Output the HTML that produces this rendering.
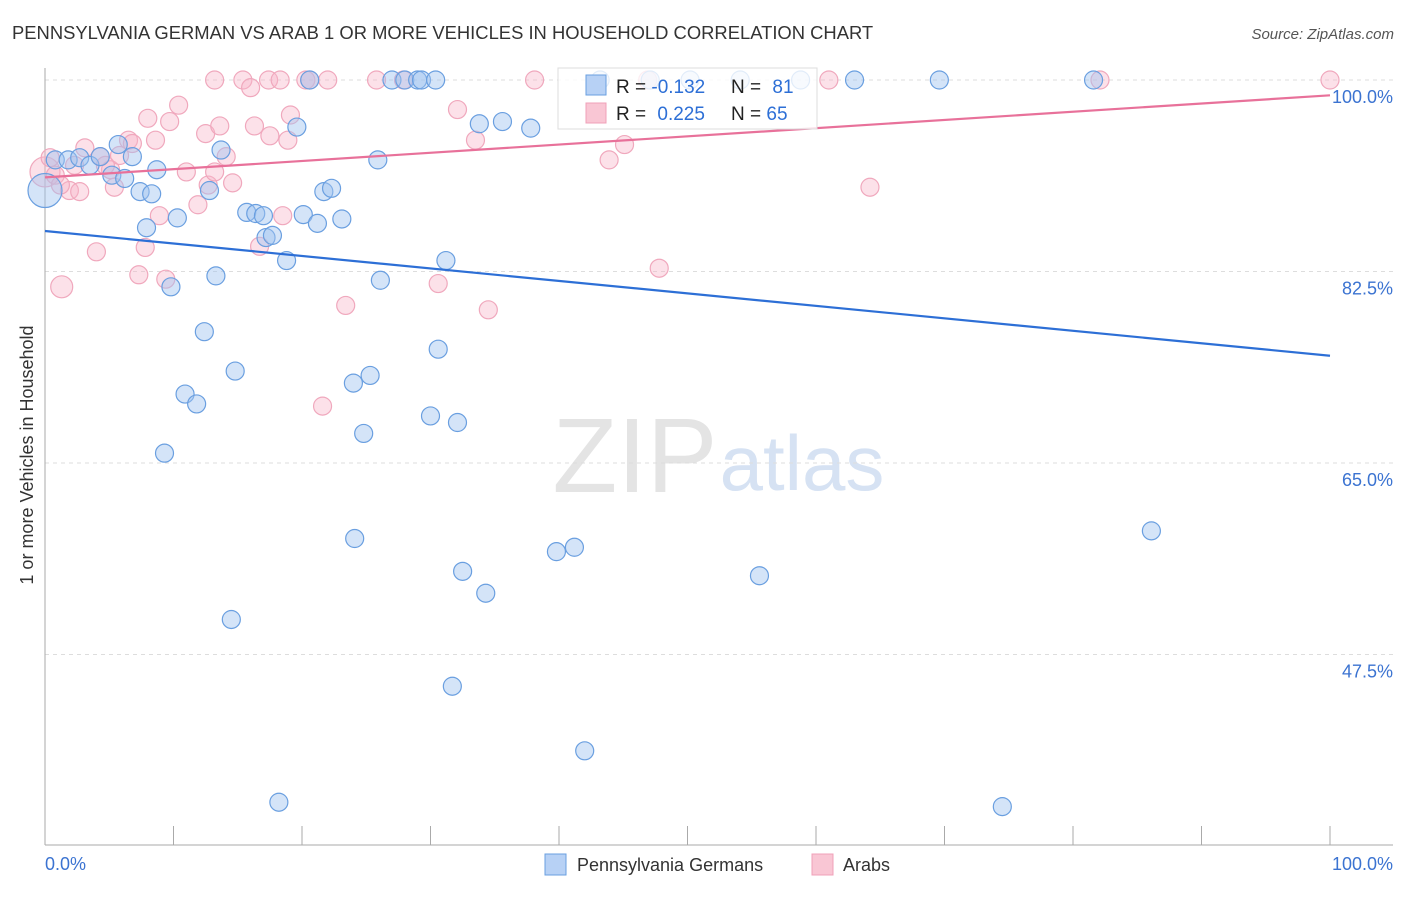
<!DOCTYPE html>
<html><head><meta charset="utf-8"><style>
body{margin:0;background:#fff;font-family:"Liberation Sans",sans-serif}
svg text{font-family:"Liberation Sans",sans-serif}
</style></head><body>
<svg id="chart" width="1406" height="892">
<text x="12" y="39" font-size="18.4" fill="#333">PENNSYLVANIA GERMAN VS ARAB 1 OR MORE VEHICLES IN HOUSEHOLD CORRELATION CHART</text>
<text x="1394" y="39" font-size="15" fill="#555" font-style="italic" text-anchor="end">Source: ZipAtlas.com</text>
<text x="33" y="455" font-size="18" fill="#333" text-anchor="middle" transform="rotate(-90 33 455)">1 or more Vehicles in Household</text>
<g><text x="635" y="492" font-size="106" fill="#e4e4e4" text-anchor="middle" font-family="Liberation Serif,serif">ZIP</text><text x="802" y="490" font-size="78" fill="#d6e2f3" text-anchor="middle">atlas</text></g>
<g id="grid"></g><g id="axes"></g><g id="pts"></g><g id="trend"></g>
<g>
<rect x="558" y="68" width="259" height="61" fill="#fff" fill-opacity="0.8" stroke="#ddd"/>
<rect x="586" y="75" width="20" height="20" fill="#b7d1f5" stroke="#6a9fe0"/>
<rect x="586" y="103" width="20" height="20" fill="#f9c6d4" stroke="#f0a0b8"/>
<text x="616" y="93" font-size="19" fill="#222">R = <tspan fill="#2d6fd6">-0.132</tspan></text>
<text x="731" y="93" font-size="19" fill="#222">N = <tspan fill="#2d6fd6" dx="6">81</tspan></text>
<text x="616" y="120" font-size="19" fill="#222">R = <tspan fill="#2d6fd6" dx="6">0.225</tspan></text>
<text x="731" y="120" font-size="19" fill="#222">N = <tspan fill="#2d6fd6">65</tspan></text>
</g>
<g>
<rect x="545" y="854" width="21" height="21" fill="#b7d1f5" stroke="#6a9fe0"/>
<text x="577" y="871" font-size="18" fill="#333">Pennsylvania Germans</text>
<rect x="812" y="854" width="21" height="21" fill="#f9c6d4" stroke="#f0a0b8"/>
<text x="843" y="871" font-size="18" fill="#333">Arabs</text>
</g>
</svg>
<script>
const yTicks=[100,82.5,65,47.5];
const yTickLabels=["100.0%","82.5%","65.0%","47.5%"];
const blueX=[0,0.8,1.8,2.7,3.5,4.3,5.2,5.7,6.2,6.8,7.4,7.9,8.3,8.7,9.8,10.3,10.9,11.8,12.4,12.8,13.3,13.7,14.8,15.7,16.4,17.0,17.2,17.7,18.8,19.6,20.1,20.6,21.2,21.7,22.3,23.1,24.0,24.1,24.8,25.3,25.9,26.1,27.0,28.0,29.0,29.3,30.4,30.0,30.6,31.2,31.7,32.1,32.5,33.8,34.3,35.6,37.8,39.8,41.2,42.0,14.5,9.3,18.2,43.2,47.1,50.2,54.1,55.6,58.8,63.0,69.6,74.5,81.6,86.1];
const blueY=[89.9,92.7,92.7,92.9,92.2,93.0,91.3,94.1,91.0,93.0,89.8,86.5,89.6,91.8,81.1,87.4,71.3,70.4,77.0,89.9,82.1,93.6,73.4,87.9,87.8,87.6,85.6,85.8,83.5,95.7,87.7,100,86.9,89.8,90.1,87.3,72.3,58.1,67.7,73.0,92.7,81.7,100,100,100,100,100,69.3,75.4,83.5,44.6,68.7,55.1,96.0,53.1,96.2,95.6,56.9,57.3,38.7,50.7,65.9,34.0,100,100,100,100,54.7,100,100,100,33.6,100,58.8];
const blueR=[17,9,9,9,9,9,9,9,9,9,9,9,9,9,9,9,9,9,9,9,9,9,9,9,9,9,9,9,9,9,9,9,9,9,9,9,9,9,9,9,9,9,9,9,9,9,9,9,9,9,9,9,9,9,9,9,9,9,9,9,9,9,9,9,9,9,9,9,9,9,9,9,9,9];
const pinkX=[0,0.4,0.8,1.3,1.9,2.7,3.1,4.0,4.3,5.1,5.4,5.8,6.5,6.8,7.3,7.8,8.0,8.6,8.9,9.4,9.7,10.4,11.0,11.9,12.5,12.7,13.2,13.6,14.1,14.6,15.4,16.0,16.3,16.7,17.4,17.5,18.3,18.5,18.9,19.1,20.3,20.6,21.6,22.0,23.4,25.8,27.9,30.6,32.1,33.5,34.5,38.1,43.9,45.1,46.9,47.8,61.0,64.2,82.1,100,1.2,2.3,13.2,4.7];
const pinkY=[91.6,92.9,91.3,81.1,89.9,89.8,93.8,84.3,93.0,91.8,90.2,93.1,94.5,94.2,82.2,84.7,96.5,94.5,87.6,81.8,96.2,97.7,91.6,88.6,95.1,90.4,100,95.8,93.0,90.6,100,99.3,95.8,84.8,100,94.9,100,87.6,94.5,96.8,100,100,70.2,100,79.4,100,100,81.4,97.3,94.5,79.0,100,92.7,94.1,100,82.8,100,90.2,100,100,90.4,92.2,91.6,92.2];
const pinkR=[15,9,9,11,9,9,9,9,9,9,9,9,9,9,9,9,9,9,9,9,9,9,9,9,9,9,9,9,9,9,9,9,9,9,9,9,9,9,9,9,9,9,9,9,9,9,9,9,9,9,9,9,9,9,9,9,9,9,9,9,9,9,9,9];
const blueTrend=[86.2,74.8];
const pinkTrend=[91.1,98.6];
const NS="http://www.w3.org/2000/svg";
const sx=v=>45+v*12.85;
const sy=v=>80+(100-v)*10.943;
function mk(tag,attrs,parent){const e=document.createElementNS(NS,tag);for(const k in attrs)e.setAttribute(k,attrs[k]);parent.appendChild(e);return e;}
const grid=document.getElementById('grid'),axes=document.getElementById('axes'),pts=document.getElementById('pts'),trend=document.getElementById('trend');
yTicks.forEach((t,i)=>{
 const l=mk('line',{x1:45,x2:1393,y1:sy(t),y2:sy(t),stroke:'#ddd','stroke-dasharray':'4 4'},grid);
 
 
 const tx=mk('text',{x:1393,y:sy(t)+23,'font-size':18,fill:'#3b73d1','text-anchor':'end'},grid);
 tx.textContent=yTickLabels[i];
 
 
});
const ax=mk('line',{x1:45,x2:45,y1:68,y2:845,stroke:'#aaa'},axes);


const bx=mk('line',{x1:45,x2:1393,y1:845,y2:845,stroke:'#aaa'},axes);


for(let i=1;i<=10;i++){const t=mk('line',{x1:sx(i*10),x2:sx(i*10),y1:826,y2:845,stroke:'#aaa'},axes);
 
 }
[["0.0%",45,'start'],["100.0%",1393,'end']].forEach(a=>{const t=mk('text',{x:a[1],y:870,'font-size':18,fill:'#3b73d1','text-anchor':a[2]},axes);t.textContent=a[0];
 
 });
function drawPts(X,Y,R,fill,stroke,name){X.forEach((x,i)=>{const c=mk('circle',{cx:sx(x),cy:sy(Y[i]),r:R[i],fill:fill,stroke:stroke,'stroke-width':1.2},pts);
 
 });}
drawPts(pinkX,pinkY,pinkR,'rgba(248,180,200,0.4)','#f0a8bd','arab-point');
drawPts(blueX,blueY,blueR,'rgba(160,196,240,0.45)','#6a9fe0','pennsylvania-german-point');
const bl=mk('line',{x1:sx(0),x2:sx(100),y1:sy(blueTrend[0]),y2:sy(blueTrend[1]),stroke:'#2d6fd6','stroke-width':2.2},trend);


const pl=mk('line',{x1:sx(0),x2:sx(100),y1:sy(pinkTrend[0]),y2:sy(pinkTrend[1]),stroke:'#e8719a','stroke-width':2.2},trend);


</script>
</body></html>
